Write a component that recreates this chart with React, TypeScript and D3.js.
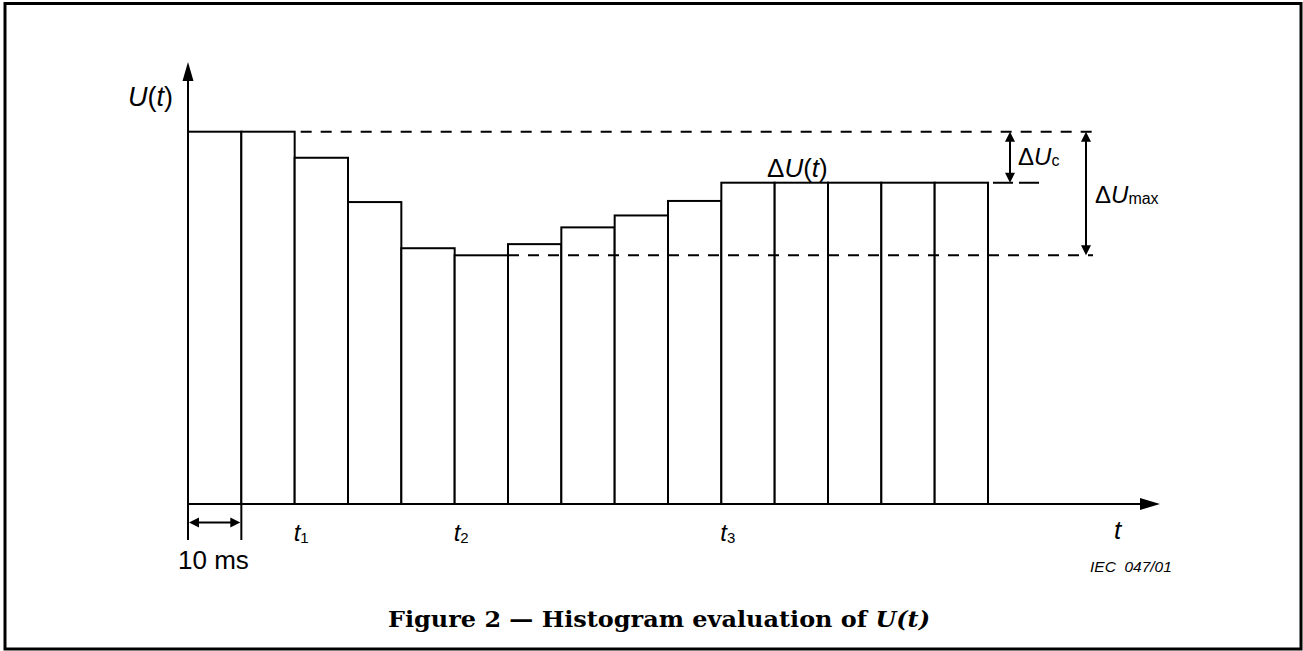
import * as d3 from 'd3';

// 10 ms samples of U(t) (percent of the first sample)
const samples = ['1', '2', '3', '4', '5', '6', '7', '8', '9', '10', '11', '12', '13', '14', '15'];
const levels = [100, 100, 93.0, 81.1, 68.7, 66.8, 69.8, 74.3, 77.5, 81.4, 86.3, 86.3, 86.3, 86.3, 86.3];

// time marks t1, t2, t3 sit on the sample boundaries
const timeMarks = ['1', '2', '3'];
const timeMarkAt = [2, 5, 10];

// reference levels for the annotations
const uStart = 100;
const uMin = 66.8;
const uSteady = 86.3;

const W = 1303;
const H = 651;
const font = '"Liberation Sans", Arial, sans-serif';

function tri(x: number, y: number, dir: 'up' | 'down' | 'left' | 'right', len = 10, half = 5) {
  if (dir === 'up') return `M${x},${y}L${x - half},${y + len}L${x + half},${y + len}Z`;
  if (dir === 'down') return `M${x},${y}L${x - half},${y - len}L${x + half},${y - len}Z`;
  if (dir === 'left') return `M${x},${y}L${x + len},${y - half}L${x + len},${y + half}Z`;
  return `M${x},${y}L${x - len},${y - half}L${x - len},${y + half}Z`;
}

export default function App() {
  const x = d3.scaleBand().domain(samples).range([188, 988]).padding(0);
  const y = d3.scaleLinear().domain([0, 100]).range([504, 131.7]);
  const bw = x.bandwidth();
  const edge = (i: number) => x.range()[0] + i * bw;

  const base = y(0);
  const axisTop = 62;
  const axisEnd = 1160;
  const dash = '11 9';

  const yTop = y(uStart);
  const yMin = y(uMin);
  const ySteady = y(uSteady);
  const refEnd = 1093;
  const arrC = 1010;
  const arrMax = 1086;

  return (
    <svg width={W} height={H} style={{ position: 'absolute', left: 0, top: 0, background: '#fff' }}>
      <rect x={5} y={3.5} width={1296} height={645.5} fill="none" stroke="#000" strokeWidth={3} />

      {/* bars */}
      <g stroke="#000" strokeWidth={2} fill="#fff">
        {samples.map((s, i) => (
          <rect key={s} x={x(s)} y={y(levels[i])} width={bw} height={base - y(levels[i])} />
        ))}
      </g>

      {/* dashed reference levels */}
      <g stroke="#000" strokeWidth={2} strokeDasharray={dash} fill="none">
        <line x1={edge(2) + 6} x2={refEnd} y1={yTop} y2={yTop} />
        <line x1={edge(6)} x2={refEnd} y1={yMin} y2={yMin} />
        <line x1={edge(15) + 5} x2={1040} y1={ySteady} y2={ySteady} strokeDasharray="20 6" />
      </g>

      {/* axes */}
      <line x1={188} x2={188} y1={base} y2={axisTop + 12} stroke="#000" strokeWidth={2} />
      <path d={tri(188, axisTop, 'up', 19, 5.5)} fill="#000" />
      <line x1={188} x2={axisEnd - 15} y1={base} y2={base} stroke="#000" strokeWidth={2} />
      <path d={tri(axisEnd, base, 'right', 20, 6)} fill="#000" />

      {/* ΔUc and ΔUmax arrows */}
      <g stroke="#000" strokeWidth={2}>
        <line x1={arrC} x2={arrC} y1={yTop + 6} y2={ySteady - 6} />
        <line x1={arrMax} x2={arrMax} y1={yTop + 6} y2={yMin - 6} />
      </g>
      <g fill="#000">
        <path d={tri(arrC, yTop, 'up', 10, 5)} />
        <path d={tri(arrC, ySteady, 'down', 10, 5)} />
        <path d={tri(arrMax, yTop, 'up', 10, 5)} />
        <path d={tri(arrMax, yMin, 'down', 10, 5)} />
      </g>

      {/* 10 ms span */}
      <g stroke="#000" strokeWidth={2}>
        <line x1={edge(0)} x2={edge(0)} y1={base} y2={540} />
        <line x1={edge(1)} x2={edge(1)} y1={base} y2={540} />
        <line x1={edge(0) + 6} x2={edge(1) - 6} y1={522.5} y2={522.5} />
      </g>
      <g fill="#000">
        <path d={tri(edge(0) + 1, 522.5, 'left', 10, 5)} />
        <path d={tri(edge(1) - 1, 522.5, 'right', 10, 5)} />
      </g>

      <g fontFamily={font} fill="#000">
        <text x={128} y={106} fontSize={27}>
          <tspan fontStyle="italic">U</tspan>(<tspan fontStyle="italic">t</tspan>)
        </text>
        <text x={767} y={177} fontSize={26}>
          Δ<tspan fontStyle="italic">U</tspan>(<tspan fontStyle="italic">t</tspan>)
        </text>
        <text x={1018} y={165} fontSize={24}>
          Δ<tspan fontStyle="italic">U</tspan>
          <tspan fontSize={16} dy={1}>c</tspan>
        </text>
        <text x={1095} y={203} fontSize={24}>
          Δ<tspan fontStyle="italic">U</tspan>
          <tspan fontSize={16} dy={1}>max</tspan>
        </text>
        {timeMarks.map((m, i) => (
          <text key={m} x={edge(timeMarkAt[i]) - 1} y={541} fontSize={24}>
            <tspan fontStyle="italic">t</tspan>
            <tspan fontSize={15} dy={2}>{m}</tspan>
          </text>
        ))}
        <text x={1114} y={539} fontSize={26} fontStyle="italic">t</text>
        <text x={178} y={569} fontSize={26}>10 ms</text>
        <text x={1090} y={572} fontSize={15.5} fontStyle="italic" xmlSpace="preserve">IEC  047/01</text>
      </g>

      <text
        x={659}
        y={627}
        textAnchor="middle"
        fontFamily='"DejaVu Serif", "Liberation Serif", serif'
        fontWeight="bold"
        fontSize={22}
        textLength={542}
        lengthAdjust="spacingAndGlyphs"
      >
        Figure 2 — Histogram evaluation of <tspan fontStyle="italic">U(t)</tspan>
      </text>
    </svg>
  );
}
